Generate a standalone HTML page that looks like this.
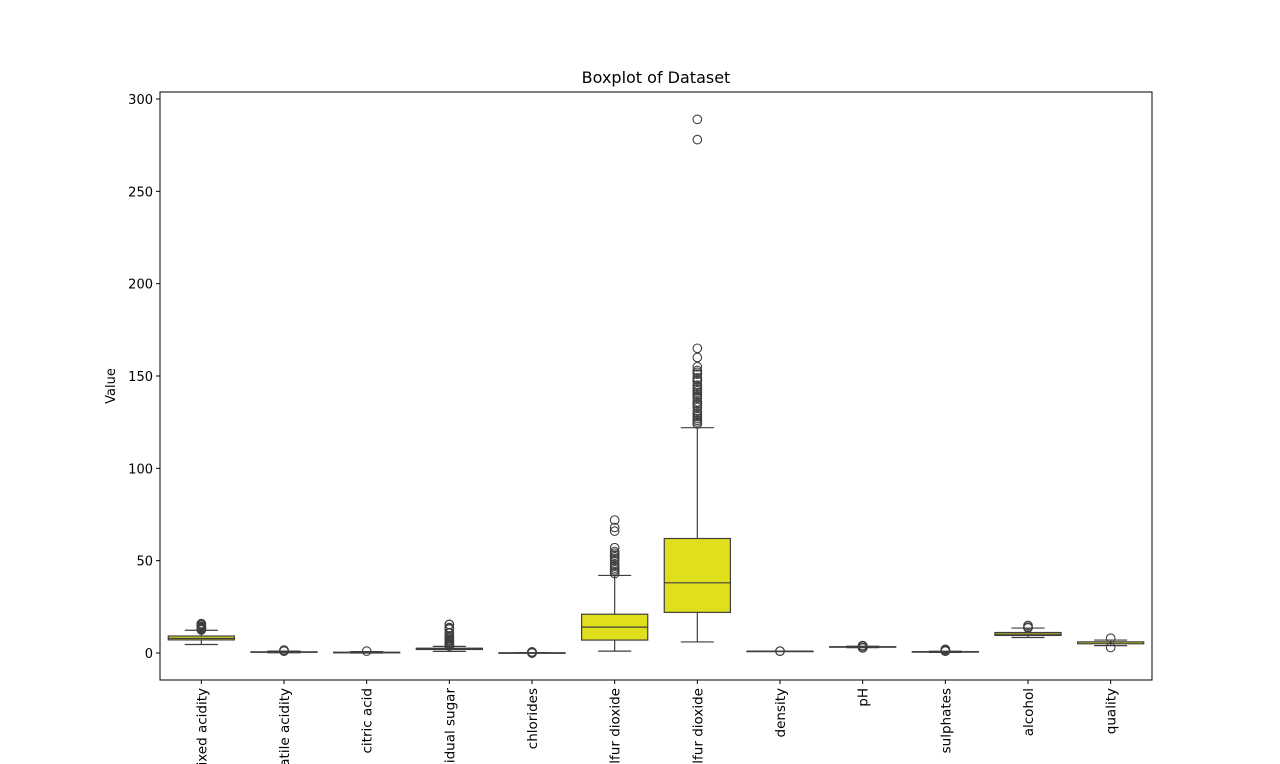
<!DOCTYPE html>
<html><head><meta charset="utf-8"><style>
html,body{margin:0;background:#fff;overflow:hidden;width:1280px;height:764px;}
svg{display:block;font-family:"DejaVu Sans","Liberation Sans",sans-serif;overflow:hidden;}
</style></head><body>
<svg id="chart" width="1280" height="764"></svg>
<script>
const categories=["fixed acidity","volatile acidity","citric acid","residual sugar","chlorides","free sulfur dioxide","total sulfur dioxide","density","pH","sulphates","alcohol","quality"];
const q1s=[7.1,0.39,0.09,1.9,0.07,7,22,0.996,3.21,0.55,9.5,5];
const medians=[7.9,0.52,0.26,2.2,0.079,14,38,0.997,3.31,0.62,10.2,6];
const q3s=[9.2,0.64,0.42,2.6,0.09,21,62,0.998,3.4,0.73,11.1,6];
const whiskLo=[4.6,0.12,0,0.9,0.039,1,6,0.992,2.93,0.33,8.4,4];
const whiskHi=[12.3,1.01,0.79,3.6,0.119,42,122,1.001,3.68,0.99,13.5,7];
const outliers=[
 [12.5,12.8,13.0,13.3,13.5,13.8,14.0,14.3,15.0,15.5,15.9],
 [1.04,1.09,1.13,1.18,1.24,1.33,1.58],
 [1.0],
 [3.8,4.2,4.6,5.1,5.6,6.1,6.7,7.2,7.9,8.6,9.0,10.7,11.0,12.9,13.4,13.8,15.4,15.5],
 [0.012,0.02,0.034,0.12,0.15,0.2,0.25,0.3,0.36,0.41,0.46,0.61],
 [43,44,45,46,47,48,50,51,52,53,54,55,57,66,68,72],
 [124,125,126,127,128,129,130,131,133,134,135,136,138,139,140,141,142,143,144,145,147,148,149,151,152,153,155,160,165,278,289],
 [0.99,1.003],
 [2.74,2.86,2.88,3.69,3.75,3.85,3.9,4.01],
 [1.0,1.1,1.2,1.36,1.59,1.62,2.0],
 [13.6,13.8,14.0,14.9],
 [3,8]];
const yTicks=[0,50,100,150,200,250,300];

const NS="http://www.w3.org/2000/svg";
const svg=document.getElementById('chart');
const L=160,R=1152,T=92,B=680;
const y=v=>653-v*(554/300);
const band=(R-L)/categories.length;
const xc=i=>L+band*(i+0.5);
function el(tag,attrs,parent){const e=document.createElementNS(NS,tag);for(const k in attrs)e.setAttribute(k,attrs[k]);(parent||svg).appendChild(e);return e;}

const t=el('text',{x:656,y:83,'text-anchor':'middle','font-size':16});
t.textContent="Boxplot of Dataset";


const yl=el('text',{x:115,y:386,'text-anchor':'middle','font-size':13,transform:'rotate(-90 115 386)'});
yl.textContent="Value";



yTicks.forEach(v=>{
 const g=el('g',{});
 
 
 el('line',{x1:L-4,x2:L,y1:y(v),y2:y(v),stroke:'#000','stroke-width':1},g);
 const tx=el('text',{x:L-7,y:y(v)+5,'text-anchor':'end','font-size':13},g);
 tx.textContent=v;
});

categories.forEach((c,i)=>{
 const g=el('g',{});
 
 
 const x=xc(i),w=band*0.8,s='#3f3f3f';
 el('line',{x1:x,x2:x,y1:y(whiskLo[i]),y2:y(q1s[i]),stroke:s,'stroke-width':1.2},g);
 el('line',{x1:x,x2:x,y1:y(q3s[i]),y2:y(whiskHi[i]),stroke:s,'stroke-width':1.2},g);
 el('line',{x1:x-w/4,x2:x+w/4,y1:y(whiskLo[i]),y2:y(whiskLo[i]),stroke:s,'stroke-width':1.2},g);
 el('line',{x1:x-w/4,x2:x+w/4,y1:y(whiskHi[i]),y2:y(whiskHi[i]),stroke:s,'stroke-width':1.2},g);
 el('rect',{x:x-w/2,y:y(q3s[i]),width:w,height:Math.max(y(q1s[i])-y(q3s[i]),0.5),fill:'#dfdf1e',stroke:s,'stroke-width':1.2},g);
 el('line',{x1:x-w/2,x2:x+w/2,y1:y(medians[i]),y2:y(medians[i]),stroke:s,'stroke-width':1.2},g);
 outliers[i].forEach(v=>el('circle',{cx:x,cy:y(v),r:4.3,fill:'none',stroke:s,'stroke-width':1.1},g));
 el('line',{x1:x,x2:x,y1:B,y2:B+4,stroke:'#000','stroke-width':1},g);
 const lb=el('text',{x:x+5,y:B+8,'text-anchor':'end','font-size':13.5,transform:`rotate(-90 ${x+5} ${B+8})`},g);
 lb.textContent=c;
});

const fr=el('rect',{x:L,y:T,width:R-L,height:B-T,fill:'none',stroke:'#000','stroke-width':1});


</script>
</body></html>
